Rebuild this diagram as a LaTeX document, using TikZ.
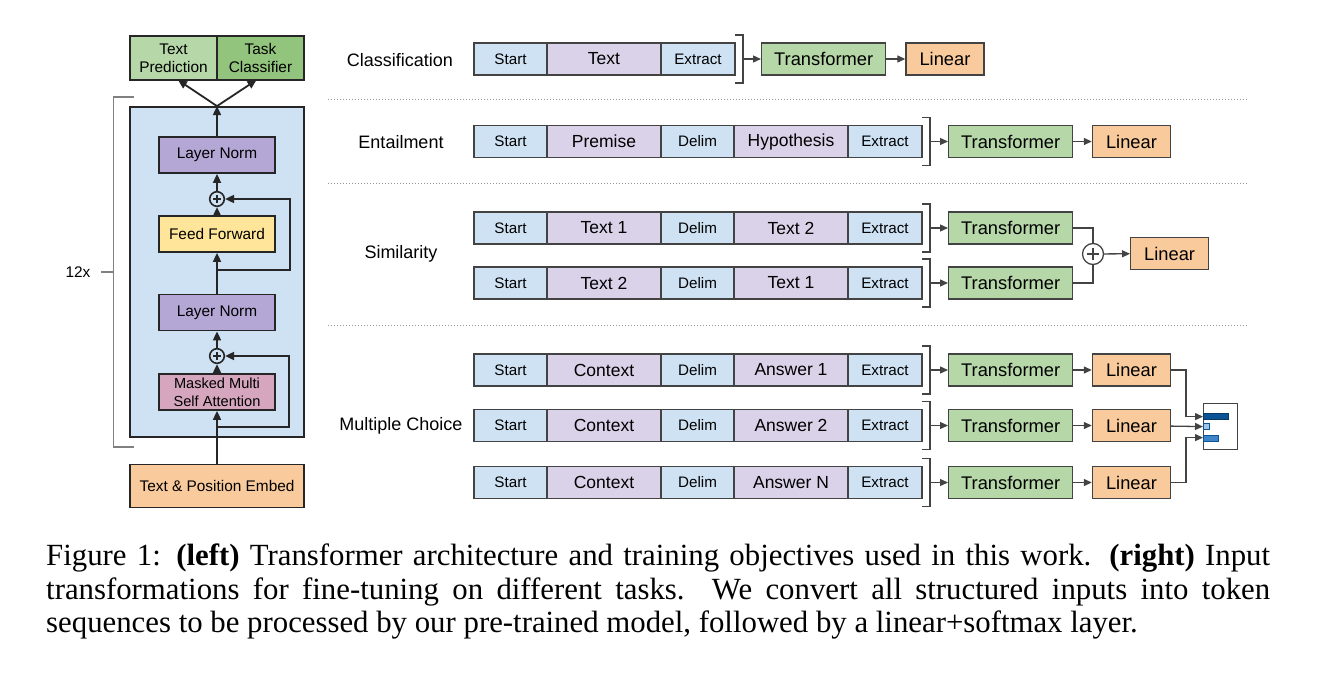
\documentclass[tikz,border=0pt]{standalone}
\usepackage{fontspec}
\setmainfont{Liberation Sans}
\newfontfamily\capfont{Liberation Serif}
\usepackage{tikz}
\usetikzlibrary{positioning, arrows.meta, calc}
\definecolor{seqblue}{HTML}{CFE2F3}
\definecolor{seqlilac}{HTML}{D9D2E9}
\definecolor{tfgreen}{HTML}{B6D7A8}
\definecolor{clsgreen}{HTML}{93C47D}
\definecolor{linorange}{HTML}{F9CB9C}
\definecolor{normpurple}{HTML}{B4A7D6}
\definecolor{ffyellow}{HTML}{FFE599}
\definecolor{attnpink}{HTML}{D5A6BD}
\definecolor{edgegray}{HTML}{434343}
\definecolor{bardark}{HTML}{0B5394}
\definecolor{barmid}{HTML}{3D85C6}
\definecolor{barlight}{HTML}{9FC5E8}
\tikzset{
    smallfont/.style={font=\fontsize{15.4}{18.3}\selectfont},
    cellbox/.style={draw=edgegray, line width=1.3pt, minimum height=32pt, inner sep=0pt, outer sep=0pt},
    tokbox/.style={cellbox, fill=seqblue, minimum width=73pt, font=\fontsize{15.2}{18}\selectfont},
    segbox/.style={cellbox, fill=seqlilac, minimum width=114pt, font=\fontsize{17.5}{20}\selectfont},
    tfbox/.style={draw=edgegray, line width=1.3pt, fill=tfgreen, minimum width=124pt, minimum height=32pt, inner sep=0pt, font=\fontsize{18.3}{22}\selectfont},
    linbox/.style={draw=edgegray, line width=1.3pt, fill=linorange, minimum width=78pt, minimum height=32pt, inner sep=0pt, font=\fontsize{18.3}{22}\selectfont},
    layerbox/.style={draw=black!85, line width=1.8pt, minimum width=116pt, minimum height=36pt, inner sep=0pt, smallfont, align=center},
    headbox/.style={draw=black!85, line width=1.8pt, minimum width=87pt, minimum height=44pt, inner sep=0pt, outer sep=0pt, smallfont, align=center},
    sumnode/.style={circle, draw=black!85, line width=1.6pt, minimum size=14.6pt, inner sep=0pt,
        path picture={\draw[line width=1.5pt] ([xshift=-4pt]path picture bounding box.center) -- ([xshift=4pt]path picture bounding box.center)
            ([yshift=-4pt]path picture bounding box.center) -- ([yshift=4pt]path picture bounding box.center);}},
    bigsum/.style={circle, draw=edgegray, line width=1.3pt, fill=white, minimum size=21pt, inner sep=0pt,
        path picture={\draw[line width=1.8pt] ([xshift=-6pt]path picture bounding box.center) -- ([xshift=6pt]path picture bounding box.center)
            ([yshift=-6pt]path picture bounding box.center) -- ([yshift=6pt]path picture bounding box.center);}},
    tasklabel/.style={font=\fontsize{18}{22}\selectfont},
    brk/.style={draw=edgegray, line width=1.2pt},
    sep/.style={draw=gray!80, line width=1pt, dash pattern=on 1pt off 2pt},
    arr/.style={draw=edgegray, line width=1.3pt, -{Stealth[length=8pt, width=7pt, inset=0pt]}},
    conn/.style={draw=edgegray, line width=1.3pt},
    larr/.style={draw=black!85, line width=1.8pt, -{Stealth[length=9pt, width=8pt, inset=0pt]}},
}

\begin{document}
\begin{tikzpicture}[x=1pt, y=-1pt]
\useasboundingbox (0,0) rectangle (1317,698);

% left: the transformer block
\node[headbox, fill=tfgreen] (tp) at (173.5,58) {Text\\Prediction};
\node[headbox, fill=clsgreen, right=0pt of tp] (tc) {Task\\Classifier};
\node[draw=black!85, line width=1.8pt, fill=seqblue, minimum width=174pt, minimum height=330pt] (blk) at (217,272) {};
\node[layerbox, fill=normpurple] (ln1) at (217,155) {Layer Norm};
\node[sumnode] (plus1) at (217,199) {};
\node[layerbox, fill=ffyellow] (ff) at (217,234) {Feed Forward};
\node[layerbox, fill=normpurple] (ln2) at (217,312.5) {Layer Norm};
\node[sumnode] (plus2) at (217,356) {};
\node[layerbox, fill=attnpink, font=\fontsize{14.6}{17.7}\selectfont] (attn) at (217,392) {Masked Multi\\Self Attention};
\node[headbox, fill=linorange, minimum width=174pt, minimum height=43pt] (emb) at (217,486) {Text \& Position Embed};
\coordinate (r1) at (217,270);
\coordinate (r2) at (217,427);

\draw[larr] (emb) -- (attn);
\draw[larr] (attn) -- (plus2);
\draw[larr] (plus2) -- (ln2);
\draw[larr] (ln2) -- (ff);
\draw[larr] (ff) -- (plus1);
\draw[larr] (plus1) -- (ln1);
\draw[larr] (ln1) -- (blk.north);
\draw[larr] (blk.north) -- ([xshift=4.5pt]tp.south);
\draw[larr] (blk.north) -- ([xshift=-4pt]tc.south);
\draw[larr] (r1) -| ([xshift=73pt]plus1.center) -- (plus1);
\draw[larr] (r2) -| ([xshift=72pt]plus2.center) -- (plus2);

% 12x bracket
\node[smallfont] (rep) at (78,272) {12x};
\draw[brk, draw=gray] ([xshift=5pt, yshift=9pt]blk.north west) -| ([xshift=-16pt, yshift=-9pt]blk.south west) -- ([xshift=5pt, yshift=-9pt]blk.south west);
\draw[brk, draw=gray] ([xshift=-28pt]blk.west) -- ([xshift=-16pt]blk.west);

% separators
\draw[sep] (328,100) -- (1248,100);
\draw[sep] (328,183) -- (1248,183);
\draw[sep] (328,325) -- (1248,325);

% classification
\node[tasklabel] (lcls) at (400,60) {Classification};
\node[tokbox, anchor=west] (cs) at (474,59) {Start};
\node[segbox, right=0pt of cs] (ct) {Text};
\node[tokbox, right=0pt of ct, minimum width=74pt] (cx) {Extract};
\coordinate (cb) at ([xshift=8pt]cx.east);
\draw[brk] ([yshift=8pt]cx.north east) -| ([xshift=8pt, yshift=-8pt]cx.south east) -- ([yshift=-8pt]cx.south east);
\node[tfbox, anchor=west] (ctf) at (761,59) {Transformer};
\node[linbox, right=19pt of ctf] (clin) {Linear};
\draw[arr] (cb) -- (ctf);
\draw[arr] (ctf) -- (clin);

% entailment
\node[tasklabel] (lent) at (401,142.5) {Entailment};
\node[tokbox, anchor=west] (es) at (474,141.5) {Start};
\node[segbox, right=0pt of es] (ep) {Premise};
\node[tokbox, right=0pt of ep] (ed) {Delim};
\node[segbox, right=0pt of ed] (eh) {Hypothesis};
\node[tokbox, right=0pt of eh, minimum width=74pt] (ex) {Extract};
\coordinate (eb) at ([xshift=8pt]ex.east);
\draw[brk] ([yshift=8pt]ex.north east) -| ([xshift=8pt, yshift=-8pt]ex.south east) -- ([yshift=-8pt]ex.south east);
\node[tfbox, anchor=west] (etf) at (948,141.5) {Transformer};
\node[linbox, right=18.5pt of etf] (elin) {Linear};
\draw[arr] (eb) -- (etf);
\draw[arr] (etf) -- (elin);

% similarity
\node[tasklabel] (lsim) at (401,253.5) {Similarity};
\node[tokbox, anchor=west] (s1s) at (474,228) {Start};
\node[segbox, right=0pt of s1s] (s1a) {Text 1};
\node[tokbox, right=0pt of s1a] (s1d) {Delim};
\node[segbox, right=0pt of s1d] (s1b) {Text 2};
\node[tokbox, right=0pt of s1b, minimum width=74pt] (s1x) {Extract};
\node[tokbox, anchor=west] (s2s) at (474,283) {Start};
\node[segbox, right=0pt of s2s] (s2a) {Text 2};
\node[tokbox, right=0pt of s2a] (s2d) {Delim};
\node[segbox, right=0pt of s2d] (s2b) {Text 1};
\node[tokbox, right=0pt of s2b, minimum width=74pt] (s2x) {Extract};
\coordinate (s1br) at ([xshift=8pt]s1x.east);
\coordinate (s2br) at ([xshift=8pt]s2x.east);
\draw[brk] ([yshift=8pt]s1x.north east) -| ([xshift=8pt, yshift=-8pt]s1x.south east) -- ([yshift=-8pt]s1x.south east);
\draw[brk] ([yshift=8pt]s2x.north east) -| ([xshift=8pt, yshift=-8pt]s2x.south east) -- ([yshift=-8pt]s2x.south east);
\node[tfbox, anchor=west] (s1tf) at (948,228) {Transformer};
\node[tfbox, anchor=west] (s2tf) at (948,283) {Transformer};
\node[bigsum] (splus) at (1093,254) {};
\node[linbox, anchor=west] (slin) at (1130,253.5) {Linear};
\draw[arr] (s1br) -- (s1tf);
\draw[arr] (s2br) -- (s2tf);
\draw[conn] (s1tf) -| (splus);
\draw[conn] (s2tf) -| (splus);
\draw[arr] (splus) -- (slin);

% multiple choice
\node[tasklabel] (lmc) at (401,425.5) {Multiple Choice};
\node[tokbox, anchor=west] (m1s) at (474,370) {Start};
\node[segbox, right=0pt of m1s] (m1c) {Context};
\node[tokbox, right=0pt of m1c] (m1d) {Delim};
\node[segbox, right=0pt of m1d] (m1a) {Answer 1};
\node[tokbox, right=0pt of m1a, minimum width=74pt] (m1x) {Extract};
\node[tokbox, anchor=west] (m2s) at (474,425.5) {Start};
\node[segbox, right=0pt of m2s] (m2c) {Context};
\node[tokbox, right=0pt of m2c] (m2d) {Delim};
\node[segbox, right=0pt of m2d] (m2a) {Answer 2};
\node[tokbox, right=0pt of m2a, minimum width=74pt] (m2x) {Extract};
\node[tokbox, anchor=west] (m3s) at (474,482.5) {Start};
\node[segbox, right=0pt of m3s] (m3c) {Context};
\node[tokbox, right=0pt of m3c] (m3d) {Delim};
\node[segbox, right=0pt of m3d] (m3a) {Answer N};
\node[tokbox, right=0pt of m3a, minimum width=74pt] (m3x) {Extract};
\coordinate (m1br) at ([xshift=8pt]m1x.east);
\coordinate (m2br) at ([xshift=8pt]m2x.east);
\coordinate (m3br) at ([xshift=8pt]m3x.east);
\draw[brk] ([yshift=8pt]m1x.north east) -| ([xshift=8pt, yshift=-8pt]m1x.south east) -- ([yshift=-8pt]m1x.south east);
\draw[brk] ([yshift=8pt]m2x.north east) -| ([xshift=8pt, yshift=-8pt]m2x.south east) -- ([yshift=-8pt]m2x.south east);
\draw[brk] ([yshift=8pt]m3x.north east) -| ([xshift=8pt, yshift=-8pt]m3x.south east) -- ([yshift=-8pt]m3x.south east);
\node[tfbox, anchor=west] (m1tf) at (948,370) {Transformer};
\node[tfbox, anchor=west] (m2tf) at (948,425.5) {Transformer};
\node[tfbox, anchor=west] (m3tf) at (948,482.5) {Transformer};
\node[linbox, right=18.5pt of m1tf] (m1lin) {Linear};
\node[linbox, right=18.5pt of m2tf] (m2lin) {Linear};
\node[linbox, right=18.5pt of m3tf] (m3lin) {Linear};
\draw[arr] (m1br) -- (m1tf);
\draw[arr] (m2br) -- (m2tf);
\draw[arr] (m3br) -- (m3tf);
\draw[arr] (m1tf) -- (m1lin);
\draw[arr] (m2tf) -- (m2lin);
\draw[arr] (m3tf) -- (m3lin);

% softmax output
\node[draw=edgegray, line width=1.2pt, fill=white, minimum width=34pt, minimum height=46pt, inner sep=0pt, anchor=north west] (out) at (1203,403) {};
\filldraw[fill=bardark, draw=bardark!70!black, line width=0.6pt] ($(out.north west)+(0,10)$) rectangle ++(25,6);
\filldraw[fill=barlight, draw=bardark, line width=0.6pt] ($(out.north west)+(0,20.5)$) rectangle ++(6,6);
\filldraw[fill=barmid, draw=bardark, line width=0.6pt] ($(out.north west)+(0,32)$) rectangle ++(15,6);
\draw[arr] (m1lin) -| ([xshift=-17pt, yshift=10pt]out.west) -- ([yshift=10pt]out.west);
\draw[arr] (m2lin) -- (out.west);
\draw[arr] (m3lin) -| ([xshift=-17pt, yshift=-11pt]out.west) -- ([yshift=-11pt]out.west);

% caption
\node[anchor=north west, text width=1224pt, align=justify, inner sep=0pt, font=\capfont\fontsize{30.8}{33.5}\selectfont] (cap) at (46,544)
{Figure 1: \textbf{(left)} Transformer architecture and training objectives used in this work. \textbf{(right)} Input\linebreak
transformations for fine-tuning on different tasks. We convert all structured inputs into token\linebreak
sequences to be processed by our pre-trained model, followed by a linear+softmax layer.};
\end{tikzpicture}
\end{document}
